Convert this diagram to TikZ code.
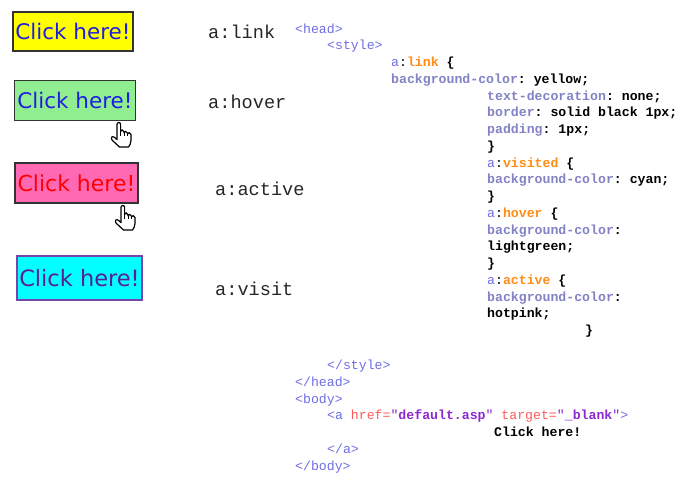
\documentclass[tikz,border=0pt]{standalone}
\usepackage{fontspec}
\setmainfont{DejaVu Sans}
\setmonofont{Liberation Mono}
\definecolor{tagblue}{RGB}{110,110,228}
\definecolor{propgray}{RGB}{130,130,196}
\definecolor{selorange}{RGB}{255,140,20}
\definecolor{attrred}{RGB}{255,90,90}
\definecolor{valpurple}{RGB}{140,40,210}
\definecolor{linkblue}{RGB}{30,30,225}
\definecolor{visitpurple}{RGB}{90,30,150}
\definecolor{visitborder}{RGB}{120,70,170}
\definecolor{hotpink}{RGB}{255,105,180}
\definecolor{lightgreen}{RGB}{144,238,144}
\definecolor{webcyan}{RGB}{0,255,255}
\definecolor{webyellow}{RGB}{255,255,0}

\begin{document}
\begin{tikzpicture}[x=1pt, y=-1pt,
    code/.style={anchor=base west, inner sep=0pt, font=\ttfamily\fontsize{13.2}{15}\selectfont},
    state/.style={anchor=base west, inner sep=0pt, text=black!85, font=\ttfamily\fontsize{18.6}{20}\selectfont},
    button/.style={draw=black!80, line width=1.3pt, inner sep=0pt, font=\fontsize{21.5}{23}\selectfont},
    cursor/.pic={
        \filldraw[fill=white, line width=1.2pt, line join=round]
            (7,16) -- (7,2.5) .. controls (7,-0.2) and (10.6,-0.2) .. (10.6,2.5) -- (10.6,9.5)
            .. controls (10.6,7.3) and (14,7.3) .. (14,9.8) -- (14,10.8)
            .. controls (14,8.8) and (17.4,8.8) .. (17.4,11) -- (17.4,12)
            .. controls (17.4,10) and (21,10) .. (21,12.5) -- (21,18.5)
            .. controls (21,21.5) and (19.5,23.5) .. (18.5,25) -- (9.5,25)
            -- (2.2,18.2) .. controls (0,15.8) and (2.4,13.2) .. (4.8,15.6) -- (7,17.6) -- cycle;
        \draw[line width=0.9pt] (10.6,9.5) -- (10.6,13.5) (14,10.8) -- (14,13.5) (17.4,12) -- (17.4,13.5);
    }]
    \useasboundingbox (0,0) rectangle (694,483);

    % Buttons
    \node[button, fill=webyellow, text=linkblue, minimum width=120pt, minimum height=39pt] (blink) at (73,31.5) {Click here!};
    \node[button, fill=lightgreen, text=linkblue, minimum width=121pt, minimum height=40pt] (bhover) at (75,100.3) {Click here!};
    \node[button, fill=hotpink, text=red, minimum width=123pt, minimum height=40pt, font=\fontsize{22}{23}\selectfont] (bactive) at (76.5,183) {Click here!};
    \node[button, draw=visitborder, fill=webcyan, text=visitpurple, minimum width=125pt, minimum height=44pt, font=\fontsize{22.5}{24}\selectfont] (bvisit) at (79.5,278) {Click here!};

    % Cursors
    \pic at (110,122) {cursor};
    \pic at (114,205) {cursor};

    % States
    \node[state] (slink) at (208,38) {a:link};
    \node[state] (shover) at (208,108) {a:hover};
    \node[state] (sactive) at (215,195) {a:active};
    \node[state] (svisit) at (215,295) {a:visit};

    % Code
    \node[code, text=tagblue] (head) at (295,33) {<head>};
    \node[code, text=tagblue] (style) at (327,49.75) {<style>};
    \node[code] (link) at (391,66.5) {\textcolor{tagblue}{a}:\textbf{\textcolor{selorange}{link} \{}};
    \node[code] (bgyellow) at (391,83.25) {\textbf{\textcolor{propgray}{background-color}: yellow;}};
    \node[code] (deco) at (487,100) {\textbf{\textcolor{propgray}{text-decoration}: none;}};
    \node[code] (border) at (487,116.75) {\textbf{\textcolor{propgray}{border}: solid black 1px;}};
    \node[code] (padding) at (487,133.5) {\textbf{\textcolor{propgray}{padding}: 1px;}};
    \node[code] (close1) at (487,150.25) {\textbf{\}}};
    \node[code] (visited) at (487,167) {\textcolor{tagblue}{a}:\textbf{\textcolor{selorange}{visited} \{}};
    \node[code] (bgcyan) at (487,183.75) {\textbf{\textcolor{propgray}{background-color}: cyan;}};
    \node[code] (close2) at (487,200.5) {\textbf{\}}};
    \node[code] (hover) at (487,217.25) {\textcolor{tagblue}{a}:\textbf{\textcolor{selorange}{hover} \{}};
    \node[code] (bggreen) at (487,234) {\textbf{\textcolor{propgray}{background-color}:}};
    \node[code] (green) at (487,250.75) {\textbf{lightgreen;}};
    \node[code] (close3) at (487,267.5) {\textbf{\}}};
    \node[code] (active) at (487,284.25) {\textcolor{tagblue}{a}:\textbf{\textcolor{selorange}{active} \{}};
    \node[code] (bgpink) at (487,301) {\textbf{\textcolor{propgray}{background-color}:}};
    \node[code] (pink) at (487,317.75) {\textbf{hotpink;}};
    \node[code] (close4) at (585,334.5) {\textbf{\}}};
    \node[code, text=tagblue] (endstyle) at (327,369.5) {</style>};
    \node[code, text=tagblue] (endhead) at (295,386.25) {</head>};
    \node[code, text=tagblue] (body) at (295,403) {<body>};
    \node[code, text=tagblue] (anchor) at (327,419.75) {<a \textcolor{attrred}{href=}\textcolor{valpurple}{"\textbf{default.asp}"} \textcolor{attrred}{target=}\textcolor{valpurple}{"\textbf{\_blank}"}>};
    \node[code] (click) at (494,436.5) {\textbf{Click here!}};
    \node[code, text=tagblue] (enda) at (327,453.25) {</a>};
    \node[code, text=tagblue] (endbody) at (295,470) {</body>};
\end{tikzpicture}
\end{document}
